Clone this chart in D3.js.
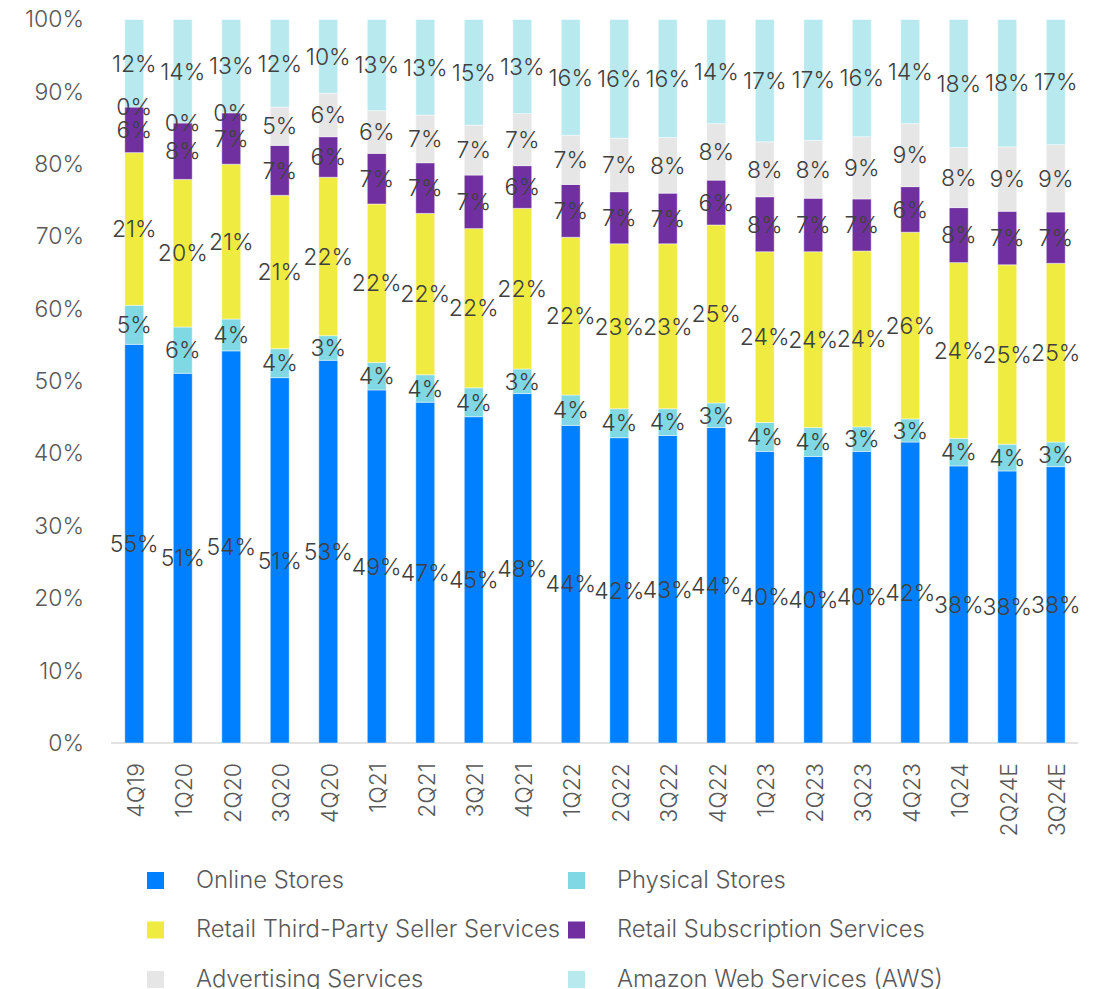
<!DOCTYPE html>
<html>
<head>
<meta charset="utf-8">
<script src="https://cdn.jsdelivr.net/npm/d3@7"></script>
<style>
  html, body { margin: 0; padding: 0; background: #fff; }
  svg { display: block; font-family: Inter, "Open Sans", sans-serif; font-weight: 300; }
</style>
</head>
<body>
<div id="chart"></div>
<script>
const quarters = ['4Q19', '1Q20', '2Q20', '3Q20', '4Q20', '1Q21', '2Q21', '3Q21', '4Q21', '1Q22',
  '2Q22', '3Q22', '4Q22', '1Q23', '2Q23', '3Q23', '4Q23', '1Q24', '2Q24E', '3Q24E'];

const seriesNames = ['Online Stores', 'Physical Stores', 'Retail Third-Party Seller Services',
  'Retail Subscription Services', 'Advertising Services', 'Amazon Web Services (AWS)'];

// share of revenue, %
const onlineStores = [55.1, 51.1, 54.2, 50.5, 52.9, 48.8, 47.1, 45.1, 48.3, 43.9,
  42.2, 42.5, 43.6, 40.3, 39.6, 40.3, 41.6, 38.3, 37.6, 38.2];
const physicalStores = [5.4, 6.4, 4.4, 4.0, 3.4, 3.8, 3.8, 4.0, 3.4, 4.2,
  4.0, 3.7, 3.4, 4.0, 4.0, 3.4, 3.2, 3.8, 3.7, 3.4];
const thirdParty = [21.1, 20.4, 21.4, 21.2, 21.9, 21.9, 22.3, 22.0, 22.2, 21.8,
  22.8, 22.8, 24.6, 23.6, 24.3, 24.3, 25.8, 24.3, 24.8, 24.7];
const subscription = [6.3, 7.8, 7.1, 6.9, 5.6, 7.0, 7.0, 7.4, 5.9, 7.3,
  7.2, 7.0, 6.2, 7.6, 7.4, 7.2, 6.3, 7.6, 7.4, 7.1];
const advertising = [0, 0, 0, 5.3, 6.0, 5.9, 6.6, 6.9, 7.2, 6.8,
  7.4, 7.7, 7.8, 7.6, 8.0, 8.6, 8.7, 8.3, 8.9, 9.3];
const aws = [12.1, 14.3, 12.9, 12.1, 10.2, 12.6, 13.2, 14.6, 13.0, 16.0,
  16.4, 16.3, 14.4, 16.9, 16.7, 16.2, 14.4, 17.7, 17.6, 17.3];

const yTicks = [0, 0.1, 0.2, 0.3, 0.4, 0.5, 0.6, 0.7, 0.8, 0.9, 1];

const colors = ['#0080ff', '#7fd8e3', '#efeb41', '#7030a0', '#e7e6e6', '#b7e9ef'];

const width = 1102;
const height = 989;

// 19 bars are drawn, one per value
const rows = onlineStores.map((v, i) => ({
  quarter: quarters[i],
  s0: onlineStores[i], s1: physicalStores[i], s2: thirdParty[i],
  s3: subscription[i], s4: advertising[i], s5: aws[i]
}));

const keys = ['s0', 's1', 's2', 's3', 's4', 's5'];
const stacked = d3.stack().keys(keys).offset(d3.stackOffsetExpand)(rows);

const xScale = d3.scaleBand()
  .domain(rows.map(d => d.quarter))
  .range([110, 1080])
  .paddingInner(0.61)
  .paddingOuter(0.305);

const yScale = d3.scaleLinear().domain([0, 1]).range([743, 19.5]);

const svg = d3.select('#chart')
  .append('svg')
  .attr('width', width)
  .attr('height', height);

// baseline
svg.append('line')
  .attr('x1', 111).attr('x2', 1078)
  .attr('y1', yScale(0)).attr('y2', yScale(0))
  .attr('stroke', '#d9d9d9')
  .attr('stroke-width', 1.5);

// y axis
const yAxis = svg.append('g')
  .attr('transform', 'translate(92,0)')
  .call(d3.axisLeft(yScale).tickValues(yTicks).tickFormat(d3.format('.0%')).tickSize(0).tickPadding(8));
yAxis.select('.domain').remove();
yAxis.selectAll('text')
  .attr('fill', '#595959')
  .attr('font-size', 23)
  .attr('font-family', 'Inter, sans-serif');

// bars
svg.append('g')
  .selectAll('g')
  .data(stacked)
  .join('g')
  .attr('fill', (d, i) => colors[i])
  .selectAll('rect')
  .data(d => d)
  .join('rect')
  .attr('x', d => xScale(d.data.quarter))
  .attr('width', xScale.bandwidth())
  .attr('y', d => yScale(d[1]))
  .attr('height', d => yScale(d[0]) - yScale(d[1]))
  .attr('stroke', '#ffffff')
  .attr('stroke-opacity', 0.45)
  .attr('stroke-width', 1);

// data labels, drawn on top of every bar
const fmt = d3.format('.0f');
svg.append('g')
  .selectAll('g')
  .data(stacked)
  .join('g')
  .each(function (layer) {
    d3.select(this).selectAll('text')
      .data(layer)
      .join('text')
      .attr('x', d => xScale(d.data.quarter) + xScale.bandwidth() / 2)
      .attr('y', d => yScale((d[0] + d[1]) / 2))
      .attr('dy', '0.36em')
      .attr('text-anchor', 'middle')
      .attr('fill', '#404040')
      .attr('font-size', 23)
      .text(d => fmt(d.data[layer.key]) + '%');
  });

// x axis labels
const xAxis = svg.append('g')
  .attr('transform', 'translate(0,' + yScale(0) + ')')
  .call(d3.axisBottom(xScale).tickSize(0));
xAxis.select('.domain').remove();
xAxis.selectAll('text')
  .attr('fill', '#595959')
  .attr('font-size', 23)
  .attr('font-family', 'Inter, sans-serif')
  .attr('text-anchor', 'end')
  .attr('transform', 'translate(1,20) rotate(-90)')
  .attr('x', 0)
  .attr('y', 0)
  .attr('dy', '0.36em');

// legend
const legend = svg.append('g')
  .selectAll('g')
  .data(seriesNames)
  .join('g')
  .attr('transform', (d, i) => 'translate(' + (i % 2 === 0 ? 147 : 568) + ',' + (872 + Math.floor(i / 2) * 49.5) + ')');

legend.append('rect')
  .attr('width', 17)
  .attr('height', 17)
  .attr('fill', (d, i) => colors[i]);

legend.append('text')
  .attr('x', 49)
  .attr('y', 15.5)
  .attr('fill', '#595959')
  .attr('font-size', 23.8)
  .text(d => d);
</script>
</body>
</html>
